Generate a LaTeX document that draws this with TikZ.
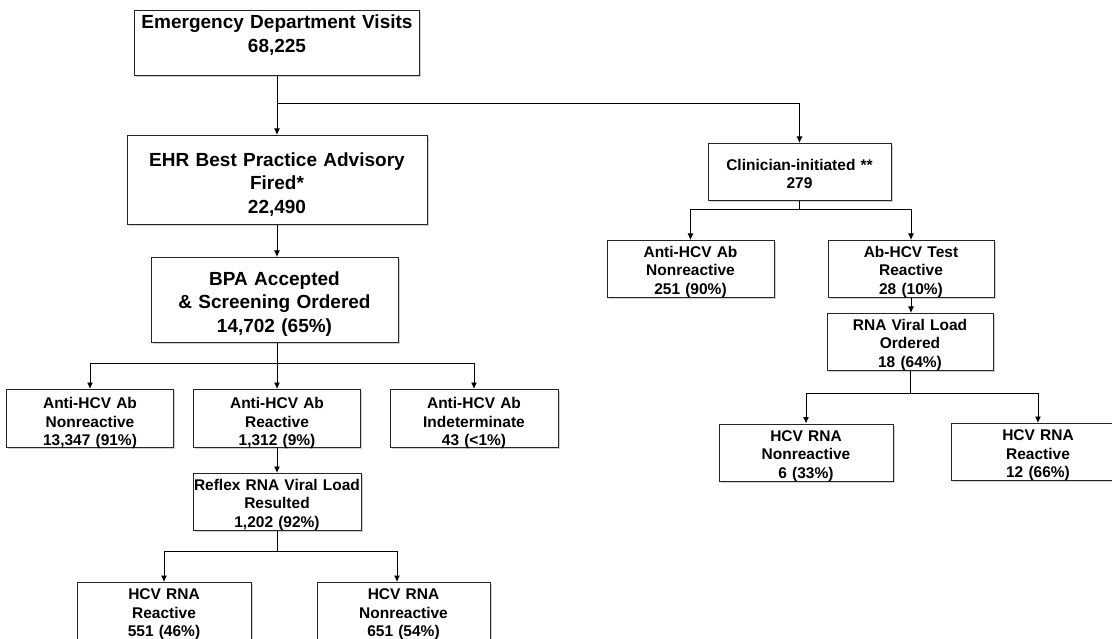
\documentclass[tikz,border=0pt]{standalone}
\usepackage{fontspec}
\setmainfont{Liberation Sans}
\usetikzlibrary{shadows, arrows.meta}

\begin{document}
\begin{tikzpicture}[x=1pt, y=-1pt, line width=0.9pt,
	box/.style={draw=black!85, line width=1pt, fill=white, align=center, inner sep=0pt, anchor=north, drop shadow={shadow xshift=1.6pt, shadow yshift=-1.6pt, fill=black!45, opacity=0.4}},
	big/.style={font=\fontsize{19}{23.3}\selectfont\bfseries},
	small/.style={font=\fontsize{15.5}{18.5}\selectfont\bfseries},
	arr/.style={-{Latex[length=6.5pt, width=6pt]}}]
		\path[use as bounding box, fill=white] (0,0) rectangle (1112,639);
		\node[box, big, text width=285pt, text height=18.5pt, text depth=46.5pt] (ED) at (277,10) {Emergency Department Visits\\68,225};
		\node[box, big, text width=300pt, text height=31pt, text depth=58pt] (EHR) at (277,135) {EHR Best Practice Advisory\\Fired*\\22,490};
		\node[box, big, text width=247pt, text height=28pt, text depth=57pt] (BPA) at (274.5,257) {BPA Accepted\\\& Screening Ordered\\14,702 (65\%)};
		\node[box, small, text width=167pt, text height=19pt, text depth=39pt] (AbN) at (90,389) {Anti-HCV Ab\\Nonreactive\\13,347 (91\%)};
		\node[box, small, text width=167pt, text height=19pt, text depth=39pt] (AbR) at (277,389) {Anti-HCV Ab\\Reactive\\1,312 (9\%)};
		\node[box, small, text width=168pt, text height=19pt, text depth=39pt] (AbI) at (474,389) {Anti-HCV Ab\\Indeterminate\\43 (<1\%)};
		\node[box, small, text width=168pt, text height=16.8pt, text depth=40.2pt] (RVL) at (277,473) {Reflex RNA Viral Load\\Resulted\\1,202 (92\%)};
		\node[box, small, text width=174pt, text height=17pt, text depth=40pt] (RR) at (164,582) {HCV RNA\\Reactive\\551 (46\%)};
		\node[box, small, text width=173pt, text height=17pt, text depth=40pt] (RN) at (403.5,582) {HCV RNA\\Nonreactive\\651 (54\%)};
		\node[box, small, text width=183pt, text height=27pt, text depth=30pt] (CI) at (799.5,143) {Clinician-initiated **\\279};
		\node[box, small, text width=167pt, text height=17pt, text depth=40pt] (CN) at (690.5,240) {Anti-HCV Ab\\Nonreactive\\251 (90\%)};
		\node[box, small, text width=166pt, text height=17pt, text depth=40pt] (CR) at (911,240) {Ab-HCV Test\\Reactive\\28 (10\%)};
		\node[box, small, text width=166pt, text height=17pt, text depth=40pt] (VLO) at (910,313) {RNA Viral Load\\Ordered\\18 (64\%)};
		\node[box, small, text width=174pt, text height=17pt, text depth=40pt] (VN) at (806,423.5) {HCV RNA\\Nonreactive\\6 (33\%)};
		\node[box, small, text width=174pt, text height=17pt, text depth=40pt] (VR) at (1038,423) {HCV RNA\\Reactive\\12 (66\%)};
		\draw[arr] (ED.south) -- (EHR.north);
		\draw[arr] (ED.south) ++(0,27) -| (CI.north);
		\draw[arr] (EHR.south) -- (EHR.south |- BPA.north);
		\draw[arr] (EHR.south |- BPA.south) -- ++(0,20) -| (AbN.north);
		\draw[arr] (EHR.south |- BPA.south) -- ++(0,20) -| (AbI.north);
		\draw[arr] (EHR.south |- BPA.south) -- (AbR.north);
		\draw[arr] (AbR.south) -- (RVL.north);
		\draw[arr] (RVL.south) -- ++(0,20) -| (RR.north);
		\draw[arr] (RVL.south) -- ++(0,20) -| ([xshift=-6.5pt]RN.north);
		\draw[arr] (CI.south) -- ++(0,8) -| (CN.north);
		\draw[arr] (CI.south) -- ++(0,8) -| (CR.north);
		\draw[arr] (CR.south) -- (CR.south |- VLO.north);
		\draw[arr] (VLO.south) -- ++(0,22) -| (VN.north);
		\draw[arr] (VLO.south) -- ++(0,22) -| (VR.north);
\end{tikzpicture}
\end{document}
